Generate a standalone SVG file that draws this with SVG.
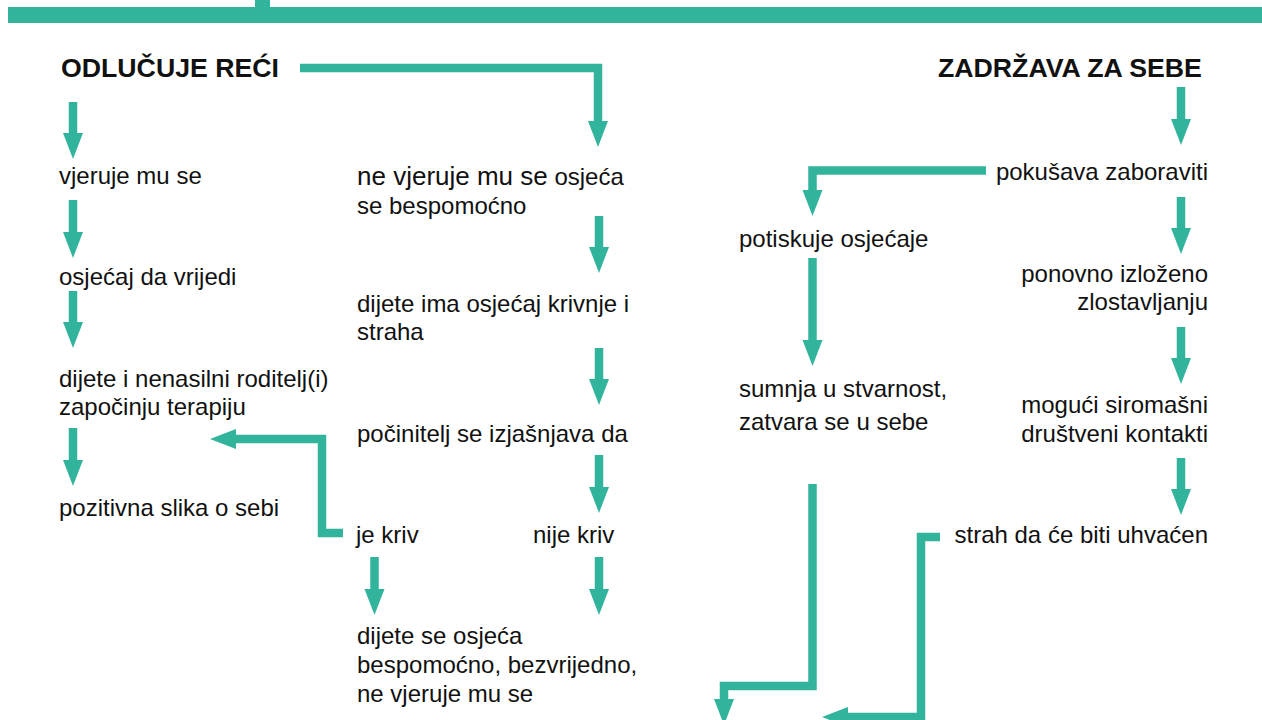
<svg xmlns="http://www.w3.org/2000/svg" width="1262" height="720" viewBox="0 0 1262 720">
  <style>
    text { font-family: "Liberation Sans", Arial, Helvetica, sans-serif; fill: #111111; }
    .t { font-size: 24px; }
    .big { font-size: 26px; }
    .h { font-size: 26.7px; font-weight: bold; }
    .end { text-anchor: end; }
    .c { fill: none; stroke: #32B49C; stroke-width: 8.5; stroke-linejoin: miter; stroke-linecap: butt; marker-end: url(#ah); }
    .bar { fill: #32B49C; }
  </style>
  <defs>
    <marker id="ah" markerUnits="userSpaceOnUse" markerWidth="26" markerHeight="20" refX="0" refY="10" orient="auto" overflow="visible">
      <polygon points="0,0 26,10 0,20" fill="#32B49C"/>
    </marker>
  </defs>

  <g id="top-bar">
    <rect class="bar" x="8" y="7" width="1254" height="16"/>
    <rect class="bar" x="255" y="0" width="15" height="23"/>
  </g>

  <g id="connectors">
    <path class="c" d="M300,68 H598 V121"/>
    <path class="c" d="M73,102 V133"/>
    <path class="c" d="M73,200 V232"/>
    <path class="c" d="M73,291 V322"/>
    <path class="c" d="M73,428 V460"/>
    <path class="c" d="M599,216 V247"/>
    <path class="c" d="M599,348 V379"/>
    <path class="c" d="M599,455 V487"/>
    <path class="c" d="M599,557 V589"/>
    <path class="c" d="M374.5,557 V589"/>
    <path class="c" d="M343,533 H322 V439 H236"/>
    <path class="c" d="M1181,87 V119"/>
    <path class="c" d="M1181,197 V228"/>
    <path class="c" d="M1181,327 V358"/>
    <path class="c" d="M1181,458 V489"/>
    <path class="c" d="M986,170.5 H812.5 V190"/>
    <path class="c" d="M812.5,258 V340"/>
    <path class="c" d="M812.5,484 V686 H724 V699"/>
    <path class="c" d="M940,537 H921 V717 H848"/>
  </g>

  <g id="odlucuje-reci"><text class="h" x="61" y="77">ODLUČUJE REĆI</text></g>
  <g id="vjeruje-mu-se"><text class="t" x="59" y="184">vjeruje mu se</text></g>
  <g id="osjecaj-da-vrijedi"><text class="t" x="59" y="285">osjećaj da vrijedi</text></g>
  <g id="terapija">
    <text class="t" x="59" y="387">dijete i nenasilni roditelj(i)</text>
    <text class="t" x="59" y="415">započinju terapiju</text>
  </g>
  <g id="pozitivna-slika"><text class="t" x="59" y="516">pozitivna slika o sebi</text></g>

  <g id="ne-vjeruje">
    <text x="357" y="185"><tspan class="big">ne vjeruje mu se</tspan><tspan class="t"> osjeća</tspan></text>
    <text class="t" x="357" y="214">se bespomoćno</text>
  </g>
  <g id="krivnja">
    <text class="t" x="357" y="312">dijete ima osjećaj krivnje i</text>
    <text class="t" x="357" y="340">straha</text>
  </g>
  <g id="pocinitelj"><text class="t" x="357" y="442">počinitelj se izjašnjava da</text></g>
  <g id="je-kriv"><text class="t" x="356" y="543">je kriv</text></g>
  <g id="nije-kriv"><text class="t" x="533" y="543">nije kriv</text></g>
  <g id="bespomocno">
    <text class="t" x="357" y="644">dijete se osjeća</text>
    <text class="t" x="357" y="673">bespomoćno, bezvrijedno,</text>
    <text class="t" x="357" y="702">ne vjeruje mu se</text>
  </g>

  <g id="zadrzava-za-sebe"><text class="h" x="938" y="77">ZADRŽAVA ZA SEBE</text></g>
  <g id="pokusava-zaboraviti"><text class="t end" x="1208" y="180">pokušava zaboraviti</text></g>
  <g id="izlozeno">
    <text class="t end" x="1208" y="282">ponovno izloženo</text>
    <text class="t end" x="1208" y="310">zlostavljanju</text>
  </g>
  <g id="kontakti">
    <text class="t end" x="1208" y="413">mogući siromašni</text>
    <text class="t end" x="1208" y="442">društveni kontakti</text>
  </g>
  <g id="strah"><text class="t end" x="1208" y="543">strah da će biti uhvaćen</text></g>
  <g id="potiskuje"><text class="t" x="739" y="247">potiskuje osjećaje</text></g>
  <g id="sumnja">
    <text class="t" x="739" y="397">sumnja u stvarnost,</text>
    <text class="t" x="739" y="430">zatvara se u sebe</text>
  </g>
</svg>
